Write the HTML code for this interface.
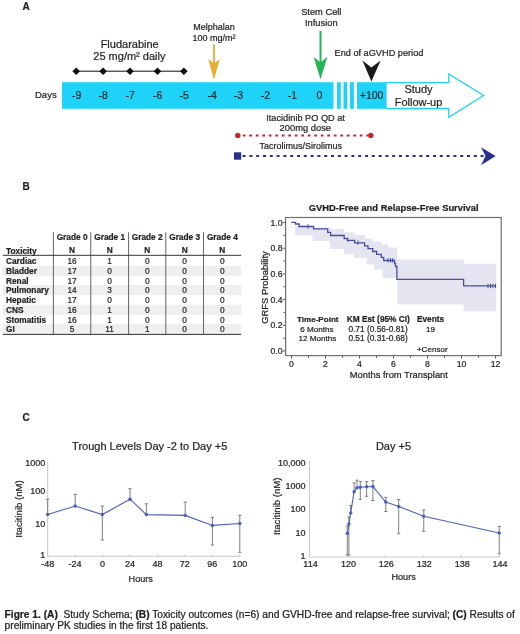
<!DOCTYPE html>
<html><head><meta charset="utf-8"><title>Figure 1</title>
<style>
html,body{margin:0;padding:0;background:#fff;}
body{width:520px;height:634px;overflow:hidden;}
svg{display:block;font-family:"Liberation Sans", sans-serif;filter:blur(0.3px);}
text{stroke:#231f20;stroke-width:0.22px;}
</style></head><body>
<svg width="520" height="634" viewBox="0 0 520 634">
<rect width="520" height="634" fill="#fff"/>
<text x="22.50" y="10.30" font-size="10" text-anchor="start" font-weight="bold" fill="#231f20" >A</text>
<text x="129.70" y="47.70" font-size="11" text-anchor="middle" font-weight="normal" fill="#231f20" >Fludarabine</text>
<text x="129.40" y="60.00" font-size="11" text-anchor="middle" font-weight="normal" fill="#231f20" >25 mg/m² daily</text>
<line x1="76.20" y1="71.20" x2="183.90" y2="71.20" stroke="#111" stroke-width="1" />
<polygon points="72.40,71.20 76.20,67.40 80.00,71.20 76.20,75.00" fill="#111" stroke="none" stroke-width="1" />
<polygon points="99.30,71.20 103.10,67.40 106.90,71.20 103.10,75.00" fill="#111" stroke="none" stroke-width="1" />
<polygon points="126.20,71.20 130.00,67.40 133.80,71.20 130.00,75.00" fill="#111" stroke="none" stroke-width="1" />
<polygon points="153.70,71.20 157.50,67.40 161.30,71.20 157.50,75.00" fill="#111" stroke="none" stroke-width="1" />
<polygon points="180.10,71.20 183.90,67.40 187.70,71.20 183.90,75.00" fill="#111" stroke="none" stroke-width="1" />
<text x="214.00" y="29.50" font-size="9" text-anchor="middle" font-weight="normal" fill="#231f20" >Melphalan</text>
<text x="214.00" y="40.50" font-size="9" text-anchor="middle" font-weight="normal" fill="#231f20" >100 mg/m²</text>
<line x1="214.00" y1="44.30" x2="214.00" y2="66.00" stroke="#E7AD35" stroke-width="1.8" />
<polygon points="208.20,59.00 214.00,63.60 219.80,59.00 214.00,79.80" fill="#E7AD35" stroke="none" stroke-width="1" />
<text x="321.30" y="15.40" font-size="9.3" text-anchor="middle" font-weight="normal" fill="#231f20" >Stem Cell</text>
<text x="321.30" y="26.20" font-size="9.3" text-anchor="middle" font-weight="normal" fill="#231f20" >Infusion</text>
<line x1="320.50" y1="30.90" x2="320.50" y2="66.00" stroke="#25B456" stroke-width="2" />
<polygon points="313.60,57.00 320.50,62.50 327.40,57.00 320.50,79.20" fill="#25B456" stroke="none" stroke-width="1" />
<text x="334.50" y="55.60" font-size="9.2" text-anchor="start" font-weight="normal" fill="#231f20" >End of aGVHD period</text>
<polygon points="362.40,60.60 371.40,67.40 380.60,60.40 371.40,81.40" fill="#1a1a1a" stroke="none" stroke-width="1" />
<rect x="62.00" y="82.20" width="271.50" height="26.60" fill="#1ED3F7" />
<rect x="337.00" y="82.20" width="3.80" height="26.60" fill="#1ED3F7" />
<rect x="343.50" y="82.20" width="3.80" height="26.60" fill="#1ED3F7" />
<rect x="350.00" y="82.20" width="3.90" height="26.60" fill="#1ED3F7" />
<polygon points="386.00,82.60 448.75,82.60 448.75,73.90 483.60,95.50 448.75,117.30 448.75,108.50 386.00,108.50" fill="#fff" stroke="#1ED3F7" stroke-width="1.3" />
<rect x="357.00" y="82.20" width="29.00" height="26.60" fill="#1ED3F7" />
<text x="418.50" y="92.50" font-size="11" text-anchor="middle" font-weight="normal" fill="#231f20" >Study</text>
<text x="418.50" y="105.60" font-size="11" text-anchor="middle" font-weight="normal" fill="#231f20" >Follow-up</text>
<text x="35.00" y="98.30" font-size="9.5" text-anchor="start" font-weight="normal" fill="#231f20" >Days</text>
<text x="76.70" y="98.60" font-size="10.5" text-anchor="middle" font-weight="normal" fill="#14303c" >-9</text>
<text x="103.20" y="98.60" font-size="10.5" text-anchor="middle" font-weight="normal" fill="#14303c" >-8</text>
<text x="130.20" y="98.60" font-size="10.5" text-anchor="middle" font-weight="normal" fill="#14303c" >-7</text>
<text x="157.60" y="98.60" font-size="10.5" text-anchor="middle" font-weight="normal" fill="#14303c" >-6</text>
<text x="184.20" y="98.60" font-size="10.5" text-anchor="middle" font-weight="normal" fill="#14303c" >-5</text>
<text x="212.20" y="98.60" font-size="10.5" text-anchor="middle" font-weight="normal" fill="#14303c" >-4</text>
<text x="238.50" y="98.60" font-size="10.5" text-anchor="middle" font-weight="normal" fill="#14303c" >-3</text>
<text x="265.50" y="98.60" font-size="10.5" text-anchor="middle" font-weight="normal" fill="#14303c" >-2</text>
<text x="292.50" y="98.60" font-size="10.5" text-anchor="middle" font-weight="normal" fill="#14303c" >-1</text>
<text x="319.30" y="98.60" font-size="10.5" text-anchor="middle" font-weight="normal" fill="#14303c" >0</text>
<text x="371.60" y="98.60" font-size="10.5" text-anchor="middle" font-weight="normal" fill="#14303c" >+100</text>
<text x="305.60" y="121.00" font-size="9.2" text-anchor="middle" font-weight="normal" fill="#231f20" >Itacidinib PO QD at</text>
<text x="305.30" y="131.20" font-size="9.4" text-anchor="middle" font-weight="normal" fill="#231f20" >200mg dose</text>
<line x1="242.80" y1="135.50" x2="368.50" y2="135.50" stroke="#C4262E" stroke-width="2.0" stroke-dasharray="2.7 3.8"/>
<circle cx="237.8" cy="135.5" r="2.7" fill="#C4262E"/>
<circle cx="370.8" cy="135.5" r="2.7" fill="#C4262E"/>
<text x="300.80" y="148.70" font-size="9" text-anchor="middle" font-weight="normal" fill="#231f20" >Tacrolimus/Sirolimus</text>
<rect x="234.00" y="152.30" width="7.20" height="7.40" fill="#2B2F8E" />
<line x1="242.60" y1="156.00" x2="488.00" y2="156.00" stroke="#2B2F8E" stroke-width="2.0" stroke-dasharray="3 3.8"/>
<polygon points="481.00,147.30 495.60,156.00 481.00,165.20 485.50,156.00" fill="#2B2F8E" stroke="none" stroke-width="1" />
<text x="22.50" y="190.30" font-size="10" text-anchor="start" font-weight="bold" fill="#231f20" >B</text>
<rect x="2.70" y="265.90" width="238.50" height="10.10" fill="#efefef" />
<rect x="2.70" y="285.00" width="238.50" height="10.10" fill="#efefef" />
<rect x="2.70" y="304.70" width="238.50" height="10.10" fill="#efefef" />
<rect x="2.70" y="323.90" width="238.50" height="10.10" fill="#efefef" />
<line x1="53.40" y1="232.20" x2="53.40" y2="334.40" stroke="#555" stroke-width="0.9" />
<line x1="90.75" y1="232.20" x2="90.75" y2="334.40" stroke="#555" stroke-width="0.9" />
<line x1="128.60" y1="232.20" x2="128.60" y2="334.40" stroke="#555" stroke-width="0.9" />
<line x1="165.80" y1="232.20" x2="165.80" y2="334.40" stroke="#555" stroke-width="0.9" />
<line x1="203.50" y1="232.20" x2="203.50" y2="334.40" stroke="#555" stroke-width="0.9" />
<line x1="2.70" y1="255.30" x2="241.20" y2="255.30" stroke="#333" stroke-width="1" />
<line x1="2.70" y1="334.40" x2="241.20" y2="334.40" stroke="#333" stroke-width="1" />
<text x="72.08" y="240.00" font-size="8.3" text-anchor="middle" font-weight="bold" fill="#231f20" >Grade 0</text>
<text x="72.08" y="253.20" font-size="8.3" text-anchor="middle" font-weight="bold" fill="#231f20" >N</text>
<text x="109.67" y="240.00" font-size="8.3" text-anchor="middle" font-weight="bold" fill="#231f20" >Grade 1</text>
<text x="109.67" y="253.20" font-size="8.3" text-anchor="middle" font-weight="bold" fill="#231f20" >N</text>
<text x="147.20" y="240.00" font-size="8.3" text-anchor="middle" font-weight="bold" fill="#231f20" >Grade 2</text>
<text x="147.20" y="253.20" font-size="8.3" text-anchor="middle" font-weight="bold" fill="#231f20" >N</text>
<text x="184.65" y="240.00" font-size="8.3" text-anchor="middle" font-weight="bold" fill="#231f20" >Grade 3</text>
<text x="184.65" y="253.20" font-size="8.3" text-anchor="middle" font-weight="bold" fill="#231f20" >N</text>
<text x="222.35" y="240.00" font-size="8.3" text-anchor="middle" font-weight="bold" fill="#231f20" >Grade 4</text>
<text x="222.35" y="253.20" font-size="8.3" text-anchor="middle" font-weight="bold" fill="#231f20" >N</text>
<text x="6.00" y="253.50" font-size="8.3" text-anchor="start" font-weight="bold" fill="#231f20" >Toxicity</text>
<text x="6.00" y="264.00" font-size="8.3" text-anchor="start" font-weight="bold" fill="#231f20" >Cardiac</text>
<text x="72.08" y="264.00" font-size="8.3" text-anchor="middle" font-weight="normal" fill="#231f20" >16</text>
<text x="109.67" y="264.00" font-size="8.3" text-anchor="middle" font-weight="normal" fill="#231f20" >1</text>
<text x="147.20" y="264.00" font-size="8.3" text-anchor="middle" font-weight="normal" fill="#231f20" >0</text>
<text x="184.65" y="264.00" font-size="8.3" text-anchor="middle" font-weight="normal" fill="#231f20" >0</text>
<text x="222.35" y="264.00" font-size="8.3" text-anchor="middle" font-weight="normal" fill="#231f20" >0</text>
<text x="6.00" y="273.80" font-size="8.3" text-anchor="start" font-weight="bold" fill="#231f20" >Bladder</text>
<text x="72.08" y="273.80" font-size="8.3" text-anchor="middle" font-weight="normal" fill="#231f20" >17</text>
<text x="109.67" y="273.80" font-size="8.3" text-anchor="middle" font-weight="normal" fill="#231f20" >0</text>
<text x="147.20" y="273.80" font-size="8.3" text-anchor="middle" font-weight="normal" fill="#231f20" >0</text>
<text x="184.65" y="273.80" font-size="8.3" text-anchor="middle" font-weight="normal" fill="#231f20" >0</text>
<text x="222.35" y="273.80" font-size="8.3" text-anchor="middle" font-weight="normal" fill="#231f20" >0</text>
<text x="6.00" y="283.70" font-size="8.3" text-anchor="start" font-weight="bold" fill="#231f20" >Renal</text>
<text x="72.08" y="283.70" font-size="8.3" text-anchor="middle" font-weight="normal" fill="#231f20" >17</text>
<text x="109.67" y="283.70" font-size="8.3" text-anchor="middle" font-weight="normal" fill="#231f20" >0</text>
<text x="147.20" y="283.70" font-size="8.3" text-anchor="middle" font-weight="normal" fill="#231f20" >0</text>
<text x="184.65" y="283.70" font-size="8.3" text-anchor="middle" font-weight="normal" fill="#231f20" >0</text>
<text x="222.35" y="283.70" font-size="8.3" text-anchor="middle" font-weight="normal" fill="#231f20" >0</text>
<text x="6.00" y="292.90" font-size="8.3" text-anchor="start" font-weight="bold" fill="#231f20" >Pulmonary</text>
<text x="72.08" y="292.90" font-size="8.3" text-anchor="middle" font-weight="normal" fill="#231f20" >14</text>
<text x="109.67" y="292.90" font-size="8.3" text-anchor="middle" font-weight="normal" fill="#231f20" >3</text>
<text x="147.20" y="292.90" font-size="8.3" text-anchor="middle" font-weight="normal" fill="#231f20" >0</text>
<text x="184.65" y="292.90" font-size="8.3" text-anchor="middle" font-weight="normal" fill="#231f20" >0</text>
<text x="222.35" y="292.90" font-size="8.3" text-anchor="middle" font-weight="normal" fill="#231f20" >0</text>
<text x="6.00" y="302.60" font-size="8.3" text-anchor="start" font-weight="bold" fill="#231f20" >Hepatic</text>
<text x="72.08" y="302.60" font-size="8.3" text-anchor="middle" font-weight="normal" fill="#231f20" >17</text>
<text x="109.67" y="302.60" font-size="8.3" text-anchor="middle" font-weight="normal" fill="#231f20" >0</text>
<text x="147.20" y="302.60" font-size="8.3" text-anchor="middle" font-weight="normal" fill="#231f20" >0</text>
<text x="184.65" y="302.60" font-size="8.3" text-anchor="middle" font-weight="normal" fill="#231f20" >0</text>
<text x="222.35" y="302.60" font-size="8.3" text-anchor="middle" font-weight="normal" fill="#231f20" >0</text>
<text x="6.00" y="312.60" font-size="8.3" text-anchor="start" font-weight="bold" fill="#231f20" >CNS</text>
<text x="72.08" y="312.60" font-size="8.3" text-anchor="middle" font-weight="normal" fill="#231f20" >16</text>
<text x="109.67" y="312.60" font-size="8.3" text-anchor="middle" font-weight="normal" fill="#231f20" >1</text>
<text x="147.20" y="312.60" font-size="8.3" text-anchor="middle" font-weight="normal" fill="#231f20" >0</text>
<text x="184.65" y="312.60" font-size="8.3" text-anchor="middle" font-weight="normal" fill="#231f20" >0</text>
<text x="222.35" y="312.60" font-size="8.3" text-anchor="middle" font-weight="normal" fill="#231f20" >0</text>
<text x="6.00" y="322.60" font-size="8.3" text-anchor="start" font-weight="bold" fill="#231f20" >Stomatitis</text>
<text x="72.08" y="322.60" font-size="8.3" text-anchor="middle" font-weight="normal" fill="#231f20" >16</text>
<text x="109.67" y="322.60" font-size="8.3" text-anchor="middle" font-weight="normal" fill="#231f20" >1</text>
<text x="147.20" y="322.60" font-size="8.3" text-anchor="middle" font-weight="normal" fill="#231f20" >0</text>
<text x="184.65" y="322.60" font-size="8.3" text-anchor="middle" font-weight="normal" fill="#231f20" >0</text>
<text x="222.35" y="322.60" font-size="8.3" text-anchor="middle" font-weight="normal" fill="#231f20" >0</text>
<text x="6.00" y="331.80" font-size="8.3" text-anchor="start" font-weight="bold" fill="#231f20" >GI</text>
<text x="72.08" y="331.80" font-size="8.3" text-anchor="middle" font-weight="normal" fill="#231f20" >5</text>
<text x="109.67" y="331.80" font-size="8.3" text-anchor="middle" font-weight="normal" fill="#231f20" >11</text>
<text x="147.20" y="331.80" font-size="8.3" text-anchor="middle" font-weight="normal" fill="#231f20" >1</text>
<text x="184.65" y="331.80" font-size="8.3" text-anchor="middle" font-weight="normal" fill="#231f20" >0</text>
<text x="222.35" y="331.80" font-size="8.3" text-anchor="middle" font-weight="normal" fill="#231f20" >0</text>
<text x="393.70" y="210.70" font-size="9.4" text-anchor="middle" font-weight="bold" fill="#231f20" >GVHD-Free and Relapse-Free Survival</text>
<polygon points="295.20,226.00 313.60,226.00 313.60,227.50 330.00,227.50 330.00,229.00 344.20,229.00 344.20,232.30 354.60,232.30 354.60,235.00 365.00,235.00 365.00,238.50 373.00,238.50 373.00,241.50 381.50,241.50 381.50,244.60 388.00,244.60 388.00,247.50 397.30,247.50 397.30,259.50 463.60,259.50 463.60,263.80 496.20,263.80 496.20,311.20 463.60,311.20 463.60,304.50 397.30,304.50 397.30,278.30 382.70,278.30 382.70,269.60 374.00,269.60 374.00,264.60 366.80,264.60 366.80,258.10 354.00,258.10 354.00,254.50 344.00,254.50 344.00,249.00 330.00,249.00 330.00,241.00 312.50,241.00 312.50,235.50 295.20,235.50" fill="#e5e5f2" stroke="none" stroke-width="1" />
<rect x="285.6" y="217.5" width="215.6" height="138.1" fill="none" stroke="#707070" stroke-width="1.2"/>
<line x1="282.60" y1="351.00" x2="285.60" y2="351.00" stroke="#606060" stroke-width="1" />
<text x="282.50" y="354.10" font-size="8.7" text-anchor="end" font-weight="normal" fill="#231f20" >0.0</text>
<line x1="283.40" y1="338.15" x2="285.60" y2="338.15" stroke="#606060" stroke-width="1" />
<line x1="282.60" y1="325.30" x2="285.60" y2="325.30" stroke="#606060" stroke-width="1" />
<text x="282.50" y="328.40" font-size="8.7" text-anchor="end" font-weight="normal" fill="#231f20" >0.2</text>
<line x1="283.40" y1="312.45" x2="285.60" y2="312.45" stroke="#606060" stroke-width="1" />
<line x1="282.60" y1="299.60" x2="285.60" y2="299.60" stroke="#606060" stroke-width="1" />
<text x="282.50" y="302.70" font-size="8.7" text-anchor="end" font-weight="normal" fill="#231f20" >0.4</text>
<line x1="283.40" y1="286.75" x2="285.60" y2="286.75" stroke="#606060" stroke-width="1" />
<line x1="282.60" y1="273.90" x2="285.60" y2="273.90" stroke="#606060" stroke-width="1" />
<text x="282.50" y="277.00" font-size="8.7" text-anchor="end" font-weight="normal" fill="#231f20" >0.6</text>
<line x1="283.40" y1="261.05" x2="285.60" y2="261.05" stroke="#606060" stroke-width="1" />
<line x1="282.60" y1="248.20" x2="285.60" y2="248.20" stroke="#606060" stroke-width="1" />
<text x="282.50" y="251.30" font-size="8.7" text-anchor="end" font-weight="normal" fill="#231f20" >0.8</text>
<line x1="283.40" y1="235.35" x2="285.60" y2="235.35" stroke="#606060" stroke-width="1" />
<line x1="282.60" y1="222.50" x2="285.60" y2="222.50" stroke="#606060" stroke-width="1" />
<text x="282.50" y="225.60" font-size="8.7" text-anchor="end" font-weight="normal" fill="#231f20" >1.0</text>
<line x1="291.50" y1="355.60" x2="291.50" y2="358.60" stroke="#606060" stroke-width="1" />
<text x="291.50" y="366.50" font-size="8.7" text-anchor="middle" font-weight="normal" fill="#231f20" >0</text>
<line x1="308.50" y1="355.60" x2="308.50" y2="357.80" stroke="#606060" stroke-width="1" />
<line x1="325.50" y1="355.60" x2="325.50" y2="358.60" stroke="#606060" stroke-width="1" />
<text x="325.50" y="366.50" font-size="8.7" text-anchor="middle" font-weight="normal" fill="#231f20" >2</text>
<line x1="342.50" y1="355.60" x2="342.50" y2="357.80" stroke="#606060" stroke-width="1" />
<line x1="359.50" y1="355.60" x2="359.50" y2="358.60" stroke="#606060" stroke-width="1" />
<text x="359.50" y="366.50" font-size="8.7" text-anchor="middle" font-weight="normal" fill="#231f20" >4</text>
<line x1="376.50" y1="355.60" x2="376.50" y2="357.80" stroke="#606060" stroke-width="1" />
<line x1="393.50" y1="355.60" x2="393.50" y2="358.60" stroke="#606060" stroke-width="1" />
<text x="393.50" y="366.50" font-size="8.7" text-anchor="middle" font-weight="normal" fill="#231f20" >6</text>
<line x1="410.50" y1="355.60" x2="410.50" y2="357.80" stroke="#606060" stroke-width="1" />
<line x1="427.50" y1="355.60" x2="427.50" y2="358.60" stroke="#606060" stroke-width="1" />
<text x="427.50" y="366.50" font-size="8.7" text-anchor="middle" font-weight="normal" fill="#231f20" >8</text>
<line x1="444.50" y1="355.60" x2="444.50" y2="357.80" stroke="#606060" stroke-width="1" />
<line x1="461.50" y1="355.60" x2="461.50" y2="358.60" stroke="#606060" stroke-width="1" />
<text x="461.50" y="366.50" font-size="8.7" text-anchor="middle" font-weight="normal" fill="#231f20" >10</text>
<line x1="478.50" y1="355.60" x2="478.50" y2="357.80" stroke="#606060" stroke-width="1" />
<line x1="495.50" y1="355.60" x2="495.50" y2="358.60" stroke="#606060" stroke-width="1" />
<text x="495.50" y="366.50" font-size="8.7" text-anchor="middle" font-weight="normal" fill="#231f20" >12</text>
<text x="398.80" y="377.60" font-size="9.35" text-anchor="middle" font-weight="normal" fill="#231f20" >Months from Transplant</text>
<text transform="translate(267.9 287.5) rotate(-90)" font-size="9.4" text-anchor="middle" fill="#231f20">GRFS Probability</text>
<polyline points="291.30,222.30 295.60,222.30 295.60,224.00 299.10,224.00 299.10,226.50 313.60,226.50 313.60,228.80 327.70,228.80 327.70,232.30 330.60,232.30 330.60,235.50 344.20,235.50 344.20,238.70 347.50,238.70 347.50,240.40 354.60,240.40 354.60,242.80 364.60,242.80 364.60,245.80 368.00,245.80 368.00,248.70 372.70,248.70 372.70,251.50 376.70,251.50 376.70,254.40 381.30,254.40 381.30,257.30 383.70,257.30 383.70,260.50 394.50,260.50 394.50,263.50 395.50,263.50 395.50,266.50 396.90,266.50 396.90,279.30 463.60,279.30 463.60,285.90 496.20,285.90 496.20,285.90" fill="none" stroke="#454d9b" stroke-width="1.3" />
<line x1="308.00" y1="224.30" x2="308.00" y2="228.70" stroke="#454d9b" stroke-width="1" />
<line x1="347.70" y1="237.40" x2="347.70" y2="241.80" stroke="#454d9b" stroke-width="1" />
<line x1="358.00" y1="240.50" x2="358.00" y2="244.90" stroke="#454d9b" stroke-width="1" />
<line x1="388.00" y1="258.10" x2="388.00" y2="262.50" stroke="#454d9b" stroke-width="1" />
<line x1="390.50" y1="258.10" x2="390.50" y2="262.50" stroke="#454d9b" stroke-width="1" />
<line x1="392.70" y1="258.10" x2="392.70" y2="262.50" stroke="#454d9b" stroke-width="1" />
<line x1="488.00" y1="283.70" x2="488.00" y2="288.10" stroke="#454d9b" stroke-width="1" />
<line x1="490.50" y1="283.70" x2="490.50" y2="288.10" stroke="#454d9b" stroke-width="1" />
<line x1="493.00" y1="283.70" x2="493.00" y2="288.10" stroke="#454d9b" stroke-width="1" />
<line x1="495.50" y1="283.70" x2="495.50" y2="288.10" stroke="#454d9b" stroke-width="1" />
<text x="296.90" y="321.70" font-size="8.1" text-anchor="start" font-weight="bold" fill="#231f20" >Time-Point</text>
<text x="317.00" y="331.80" font-size="8.1" text-anchor="middle" font-weight="normal" fill="#231f20" >6 Months</text>
<text x="317.40" y="341.40" font-size="8.1" text-anchor="middle" font-weight="normal" fill="#231f20" >12 Months</text>
<text x="346.70" y="321.70" font-size="8.3" text-anchor="start" font-weight="bold" fill="#231f20" >KM Est (95% CI)</text>
<text x="348.40" y="331.80" font-size="8.35" text-anchor="start" font-weight="normal" fill="#231f20" >0.71 (0.56-0.81)</text>
<text x="348.40" y="341.40" font-size="8.35" text-anchor="start" font-weight="normal" fill="#231f20" >0.51 (0.31-0.68)</text>
<text x="416.90" y="321.50" font-size="8.3" text-anchor="start" font-weight="bold" fill="#231f20" >Events</text>
<text x="430.60" y="331.80" font-size="8.1" text-anchor="middle" font-weight="normal" fill="#231f20" >19</text>
<text x="416.90" y="352.00" font-size="8.1" text-anchor="start" font-weight="normal" fill="#231f20" >+Censor</text>
<text x="22.50" y="421.30" font-size="10" text-anchor="start" font-weight="bold" fill="#231f20" >C</text>
<text x="149.70" y="449.70" font-size="11" text-anchor="middle" font-weight="normal" fill="#231f20" >Trough Levels Day -2 to Day +5</text>
<line x1="47.70" y1="460.80" x2="47.70" y2="556.30" stroke="#c8c8c8" stroke-width="1" />
<line x1="47.70" y1="556.30" x2="240.50" y2="556.30" stroke="#c8c8c8" stroke-width="1" />
<line x1="47.70" y1="554.30" x2="47.70" y2="556.30" stroke="#c8c8c8" stroke-width="1" />
<line x1="75.13" y1="554.30" x2="75.13" y2="556.30" stroke="#c8c8c8" stroke-width="1" />
<line x1="102.56" y1="554.30" x2="102.56" y2="556.30" stroke="#c8c8c8" stroke-width="1" />
<line x1="129.99" y1="554.30" x2="129.99" y2="556.30" stroke="#c8c8c8" stroke-width="1" />
<line x1="157.42" y1="554.30" x2="157.42" y2="556.30" stroke="#c8c8c8" stroke-width="1" />
<line x1="184.85" y1="554.30" x2="184.85" y2="556.30" stroke="#c8c8c8" stroke-width="1" />
<line x1="212.28" y1="554.30" x2="212.28" y2="556.30" stroke="#c8c8c8" stroke-width="1" />
<line x1="239.71" y1="554.30" x2="239.71" y2="556.30" stroke="#c8c8c8" stroke-width="1" />
<text x="45.30" y="465.70" font-size="9" text-anchor="end" font-weight="normal" fill="#231f20" >1000</text>
<text x="45.30" y="494.20" font-size="9" text-anchor="end" font-weight="normal" fill="#231f20" >100</text>
<text x="45.30" y="526.90" font-size="9" text-anchor="end" font-weight="normal" fill="#231f20" >10</text>
<text x="45.30" y="557.90" font-size="9" text-anchor="end" font-weight="normal" fill="#231f20" >1</text>
<text x="47.70" y="567.10" font-size="9" text-anchor="middle" font-weight="normal" fill="#231f20" >-48</text>
<text x="75.13" y="567.10" font-size="9" text-anchor="middle" font-weight="normal" fill="#231f20" >-24</text>
<text x="102.56" y="567.10" font-size="9" text-anchor="middle" font-weight="normal" fill="#231f20" >0</text>
<text x="129.99" y="567.10" font-size="9" text-anchor="middle" font-weight="normal" fill="#231f20" >24</text>
<text x="157.42" y="567.10" font-size="9" text-anchor="middle" font-weight="normal" fill="#231f20" >48</text>
<text x="184.85" y="567.10" font-size="9" text-anchor="middle" font-weight="normal" fill="#231f20" >72</text>
<text x="212.28" y="567.10" font-size="9" text-anchor="middle" font-weight="normal" fill="#231f20" >96</text>
<text x="239.71" y="567.10" font-size="9" text-anchor="middle" font-weight="normal" fill="#231f20" >100</text>
<text x="140.70" y="582.30" font-size="9.1" text-anchor="middle" font-weight="normal" fill="#231f20" >Hours</text>
<text transform="translate(21.8 509) rotate(-90)" font-size="9.6" text-anchor="middle" fill="#231f20">Itacitinib (nM)</text>
<line x1="47.70" y1="499.20" x2="47.70" y2="514.60" stroke="#707070" stroke-width="0.9" />
<line x1="46.10" y1="499.20" x2="49.30" y2="499.20" stroke="#707070" stroke-width="0.9" />
<line x1="75.20" y1="494.40" x2="75.20" y2="506.00" stroke="#707070" stroke-width="0.9" />
<line x1="73.60" y1="494.40" x2="76.80" y2="494.40" stroke="#707070" stroke-width="0.9" />
<line x1="102.30" y1="506.00" x2="102.30" y2="540.00" stroke="#707070" stroke-width="0.9" />
<line x1="100.70" y1="506.00" x2="103.90" y2="506.00" stroke="#707070" stroke-width="0.9" />
<line x1="100.70" y1="540.00" x2="103.90" y2="540.00" stroke="#707070" stroke-width="0.9" />
<line x1="130.00" y1="488.70" x2="130.00" y2="499.20" stroke="#707070" stroke-width="0.9" />
<line x1="128.40" y1="488.70" x2="131.60" y2="488.70" stroke="#707070" stroke-width="0.9" />
<line x1="146.40" y1="503.80" x2="146.40" y2="514.60" stroke="#707070" stroke-width="0.9" />
<line x1="144.80" y1="503.80" x2="148.00" y2="503.80" stroke="#707070" stroke-width="0.9" />
<line x1="185.20" y1="502.00" x2="185.20" y2="515.40" stroke="#707070" stroke-width="0.9" />
<line x1="183.60" y1="502.00" x2="186.80" y2="502.00" stroke="#707070" stroke-width="0.9" />
<line x1="212.40" y1="517.30" x2="212.40" y2="545.00" stroke="#707070" stroke-width="0.9" />
<line x1="210.80" y1="517.30" x2="214.00" y2="517.30" stroke="#707070" stroke-width="0.9" />
<line x1="210.80" y1="545.00" x2="214.00" y2="545.00" stroke="#707070" stroke-width="0.9" />
<line x1="239.80" y1="515.20" x2="239.80" y2="552.30" stroke="#707070" stroke-width="0.9" />
<line x1="238.20" y1="515.20" x2="241.40" y2="515.20" stroke="#707070" stroke-width="0.9" />
<line x1="238.20" y1="552.30" x2="241.40" y2="552.30" stroke="#707070" stroke-width="0.9" />
<polyline points="47.70,514.60 75.20,506.00 102.30,514.60 130.00,499.20 146.40,514.60 185.20,515.40 212.40,525.40 239.80,523.50" fill="none" stroke="#4f60b6" stroke-width="1.1" />
<circle cx="47.7" cy="514.6" r="1.75" fill="#4f60b6"/>
<circle cx="75.2" cy="506.0" r="1.75" fill="#4f60b6"/>
<circle cx="102.3" cy="514.6" r="1.75" fill="#4f60b6"/>
<circle cx="130.0" cy="499.2" r="1.75" fill="#4f60b6"/>
<circle cx="146.4" cy="514.6" r="1.75" fill="#4f60b6"/>
<circle cx="185.2" cy="515.4" r="1.75" fill="#4f60b6"/>
<circle cx="212.4" cy="525.4" r="1.75" fill="#4f60b6"/>
<circle cx="239.8" cy="523.5" r="1.75" fill="#4f60b6"/>
<text x="393.50" y="450.00" font-size="11" text-anchor="middle" font-weight="normal" fill="#231f20" >Day +5</text>
<line x1="309.50" y1="461.00" x2="309.50" y2="557.00" stroke="#c8c8c8" stroke-width="1" />
<line x1="309.50" y1="557.00" x2="500.50" y2="557.00" stroke="#c8c8c8" stroke-width="1" />
<line x1="309.50" y1="555.00" x2="309.50" y2="557.00" stroke="#c8c8c8" stroke-width="1" />
<text x="310.50" y="567.30" font-size="9" text-anchor="middle" font-weight="normal" fill="#231f20" >114</text>
<line x1="347.42" y1="555.00" x2="347.42" y2="557.00" stroke="#c8c8c8" stroke-width="1" />
<text x="348.42" y="567.30" font-size="9" text-anchor="middle" font-weight="normal" fill="#231f20" >120</text>
<line x1="385.34" y1="555.00" x2="385.34" y2="557.00" stroke="#c8c8c8" stroke-width="1" />
<text x="386.34" y="567.30" font-size="9" text-anchor="middle" font-weight="normal" fill="#231f20" >126</text>
<line x1="423.26" y1="555.00" x2="423.26" y2="557.00" stroke="#c8c8c8" stroke-width="1" />
<text x="424.26" y="567.30" font-size="9" text-anchor="middle" font-weight="normal" fill="#231f20" >132</text>
<line x1="461.18" y1="555.00" x2="461.18" y2="557.00" stroke="#c8c8c8" stroke-width="1" />
<text x="462.18" y="567.30" font-size="9" text-anchor="middle" font-weight="normal" fill="#231f20" >138</text>
<line x1="499.10" y1="555.00" x2="499.10" y2="557.00" stroke="#c8c8c8" stroke-width="1" />
<text x="500.10" y="567.30" font-size="9" text-anchor="middle" font-weight="normal" fill="#231f20" >144</text>
<text x="305.60" y="465.70" font-size="9" text-anchor="end" font-weight="normal" fill="#231f20" >10,000</text>
<text x="305.60" y="489.07" font-size="9" text-anchor="end" font-weight="normal" fill="#231f20" >1000</text>
<text x="305.60" y="512.45" font-size="9" text-anchor="end" font-weight="normal" fill="#231f20" >100</text>
<text x="305.60" y="535.83" font-size="9" text-anchor="end" font-weight="normal" fill="#231f20" >10</text>
<text x="305.60" y="559.20" font-size="9" text-anchor="end" font-weight="normal" fill="#231f20" >1</text>
<text x="403.60" y="579.60" font-size="9.1" text-anchor="middle" font-weight="normal" fill="#231f20" >Hours</text>
<text transform="translate(279.9 506.3) rotate(-90)" font-size="9.6" text-anchor="middle" fill="#231f20">Itacitinib (nM)</text>
<line x1="347.30" y1="526.00" x2="347.30" y2="555.00" stroke="#707070" stroke-width="0.9" />
<line x1="345.70" y1="526.00" x2="348.90" y2="526.00" stroke="#707070" stroke-width="0.9" />
<line x1="345.70" y1="555.00" x2="348.90" y2="555.00" stroke="#707070" stroke-width="0.9" />
<line x1="348.90" y1="516.90" x2="348.90" y2="555.00" stroke="#707070" stroke-width="0.9" />
<line x1="347.30" y1="516.90" x2="350.50" y2="516.90" stroke="#707070" stroke-width="0.9" />
<line x1="347.30" y1="555.00" x2="350.50" y2="555.00" stroke="#707070" stroke-width="0.9" />
<line x1="350.70" y1="505.50" x2="350.70" y2="512.90" stroke="#707070" stroke-width="0.9" />
<line x1="349.10" y1="505.50" x2="352.30" y2="505.50" stroke="#707070" stroke-width="0.9" />
<line x1="354.10" y1="482.80" x2="354.10" y2="491.70" stroke="#707070" stroke-width="0.9" />
<line x1="352.50" y1="482.80" x2="355.70" y2="482.80" stroke="#707070" stroke-width="0.9" />
<line x1="357.00" y1="480.20" x2="357.00" y2="487.80" stroke="#707070" stroke-width="0.9" />
<line x1="355.40" y1="480.20" x2="358.60" y2="480.20" stroke="#707070" stroke-width="0.9" />
<line x1="360.30" y1="481.60" x2="360.30" y2="499.40" stroke="#707070" stroke-width="0.9" />
<line x1="358.70" y1="481.60" x2="361.90" y2="481.60" stroke="#707070" stroke-width="0.9" />
<line x1="358.70" y1="499.40" x2="361.90" y2="499.40" stroke="#707070" stroke-width="0.9" />
<line x1="366.60" y1="481.60" x2="366.60" y2="496.30" stroke="#707070" stroke-width="0.9" />
<line x1="365.00" y1="481.60" x2="368.20" y2="481.60" stroke="#707070" stroke-width="0.9" />
<line x1="365.00" y1="496.30" x2="368.20" y2="496.30" stroke="#707070" stroke-width="0.9" />
<line x1="372.90" y1="480.60" x2="372.90" y2="500.50" stroke="#707070" stroke-width="0.9" />
<line x1="371.30" y1="480.60" x2="374.50" y2="480.60" stroke="#707070" stroke-width="0.9" />
<line x1="371.30" y1="500.50" x2="374.50" y2="500.50" stroke="#707070" stroke-width="0.9" />
<line x1="385.80" y1="497.30" x2="385.80" y2="511.50" stroke="#707070" stroke-width="0.9" />
<line x1="384.20" y1="497.30" x2="387.40" y2="497.30" stroke="#707070" stroke-width="0.9" />
<line x1="384.20" y1="511.50" x2="387.40" y2="511.50" stroke="#707070" stroke-width="0.9" />
<line x1="398.70" y1="499.50" x2="398.70" y2="533.75" stroke="#707070" stroke-width="0.9" />
<line x1="397.10" y1="499.50" x2="400.30" y2="499.50" stroke="#707070" stroke-width="0.9" />
<line x1="397.10" y1="533.75" x2="400.30" y2="533.75" stroke="#707070" stroke-width="0.9" />
<line x1="423.75" y1="510.00" x2="423.75" y2="531.25" stroke="#707070" stroke-width="0.9" />
<line x1="422.15" y1="510.00" x2="425.35" y2="510.00" stroke="#707070" stroke-width="0.9" />
<line x1="422.15" y1="531.25" x2="425.35" y2="531.25" stroke="#707070" stroke-width="0.9" />
<line x1="499.25" y1="526.50" x2="499.25" y2="553.75" stroke="#707070" stroke-width="0.9" />
<line x1="497.65" y1="526.50" x2="500.85" y2="526.50" stroke="#707070" stroke-width="0.9" />
<line x1="497.65" y1="553.75" x2="500.85" y2="553.75" stroke="#707070" stroke-width="0.9" />
<polyline points="347.30,533.20 348.90,524.00 350.70,512.90 354.10,491.70 357.00,487.80 360.30,487.30 366.60,486.80 372.90,486.60 385.80,502.10 398.70,506.40 423.75,516.25 499.25,533.00" fill="none" stroke="#4f60b6" stroke-width="1.1" />
<circle cx="347.3" cy="533.2" r="1.75" fill="#4f60b6"/>
<circle cx="348.9" cy="524" r="1.75" fill="#4f60b6"/>
<circle cx="350.7" cy="512.9" r="1.75" fill="#4f60b6"/>
<circle cx="354.1" cy="491.7" r="1.75" fill="#4f60b6"/>
<circle cx="357" cy="487.8" r="1.75" fill="#4f60b6"/>
<circle cx="360.3" cy="487.3" r="1.75" fill="#4f60b6"/>
<circle cx="366.6" cy="486.8" r="1.75" fill="#4f60b6"/>
<circle cx="372.9" cy="486.6" r="1.75" fill="#4f60b6"/>
<circle cx="385.8" cy="502.1" r="1.75" fill="#4f60b6"/>
<circle cx="398.7" cy="506.4" r="1.75" fill="#4f60b6"/>
<circle cx="423.75" cy="516.25" r="1.75" fill="#4f60b6"/>
<circle cx="499.25" cy="533" r="1.75" fill="#4f60b6"/>
<text x="4.6" y="617.9" font-size="10.2" fill="#222"><tspan font-weight="bold">Figre 1. (A)</tspan>  Study Schema; <tspan font-weight="bold">(B)</tspan> Toxicity outcomes (n=6) and GVHD-free and relapse-free survival; <tspan font-weight="bold">(C)</tspan> Results of</text>
<text x="4.60" y="629.00" font-size="10.2" text-anchor="start" font-weight="normal" fill="#222" >preliminary PK studies in the first 18 patients.</text>
</svg>
</body></html>
